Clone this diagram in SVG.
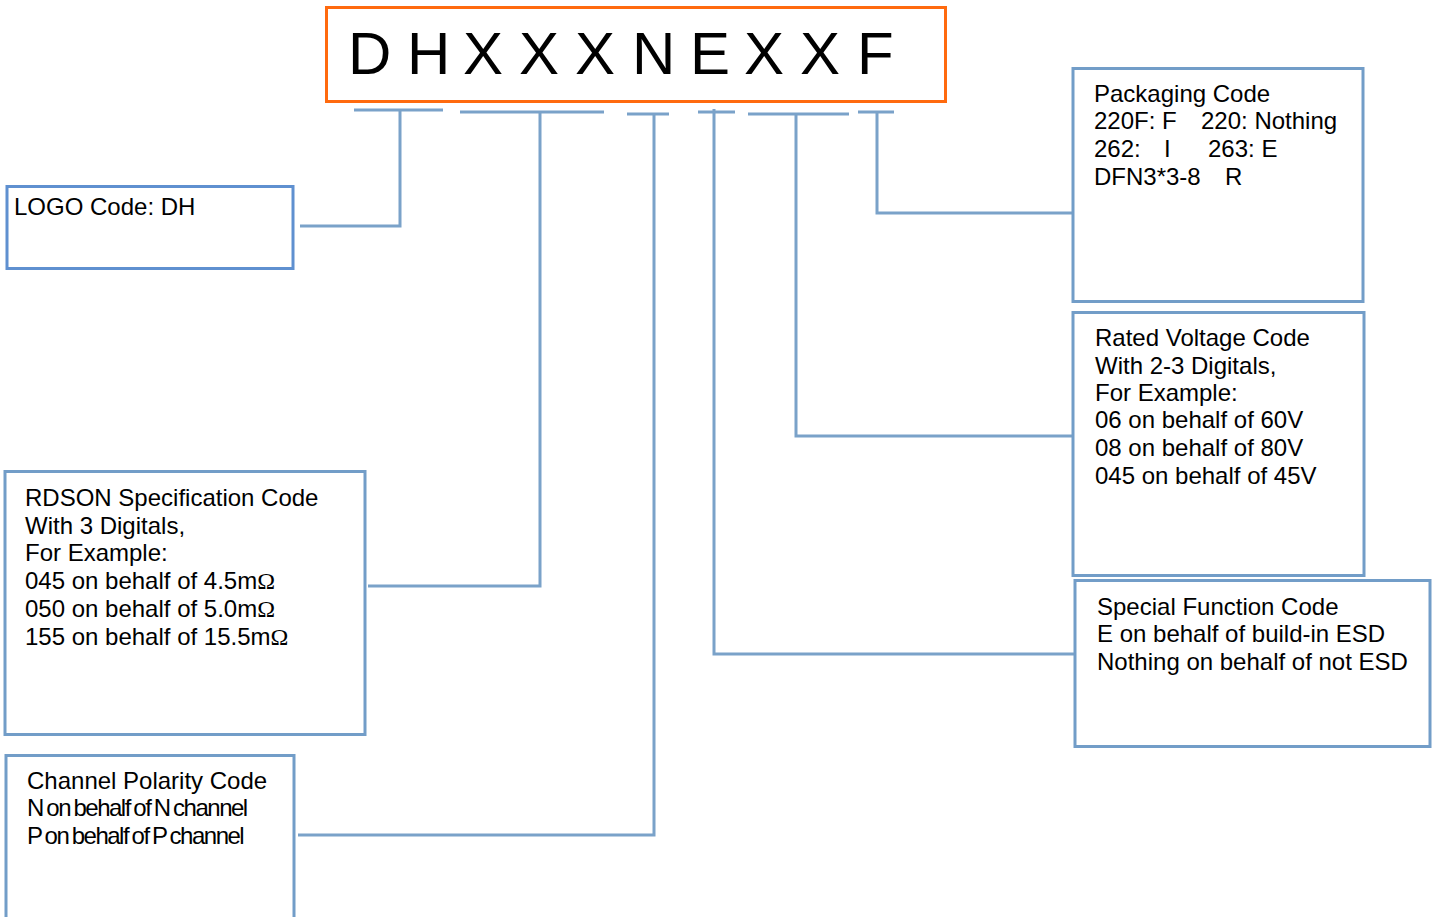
<svg xmlns="http://www.w3.org/2000/svg" width="1438" height="917" viewBox="0 0 1438 917">
<style>
.box{fill:#fff;stroke:#729dc8;stroke-width:3}
.ln{fill:none;stroke:#7aa2c9;stroke-width:3}
.t{font-family:"Liberation Sans",Arial,sans-serif;font-size:24px;fill:#000}
.title{font-family:"Liberation Sans",Arial,sans-serif;font-size:60px;fill:#000}
.cond{letter-spacing:-1.5px;word-spacing:-1.7px}
.om{font-family:"Liberation Serif","Times New Roman",serif}
</style>
<rect width="1438" height="917" fill="#fff"/>
<g id="part-number">
<rect x="326.5" y="7.5" width="619" height="94" fill="#fff" stroke="#ff6a0e" stroke-width="3"/>
<text class="title" y="74"><tspan x="348">D</tspan><tspan x="407">H</tspan><tspan x="463">X</tspan><tspan x="519">X</tspan><tspan x="575">X</tspan><tspan x="632">N</tspan><tspan x="690">E</tspan><tspan x="744">X</tspan><tspan x="800">X</tspan><tspan x="857">F</tspan></text>
</g>
<g id="connectors">
<path class="ln" d="M354 110H443M400 110V226H300"/>
<path class="ln" d="M460 112H604M540 112V586H368"/>
<path class="ln" d="M627 114H669M654 114V835H298"/>
<path class="ln" d="M698 112H735M714 109V654H1075"/>
<path class="ln" d="M748 114H849M796 114V436H1073"/>
<path class="ln" d="M858 112H894M877 112V213H1073"/>
</g>
<g id="logo">
<rect x="7" y="186.5" width="286" height="82" fill="#fff" stroke="#5f90d0" stroke-width="3"/>
<text class="t" x="14" y="215">LOGO Code: DH</text>
</g>
<g id="rdson">
<rect class="box" x="5" y="471.5" width="360" height="263"/>
<text class="t"><tspan x="25" y="506">RDSON Specification Code</tspan><tspan x="25" y="534">With 3 Digitals,</tspan><tspan x="25" y="561">For Example:</tspan><tspan x="25" y="589">045 on behalf of 4.5m<tspan class="om">Ω</tspan></tspan><tspan x="25" y="617">050 on behalf of 5.0m<tspan class="om">Ω</tspan></tspan><tspan x="25" y="645">155 on behalf of 15.5m<tspan class="om">Ω</tspan></tspan></text>
</g>
<g id="channel">
<rect class="box" x="6" y="755.5" width="288" height="175"/>
<text class="t"><tspan x="27" y="789">Channel Polarity Code</tspan><tspan class="cond" x="27" y="816">N on behalf of N channel</tspan><tspan class="cond" x="27" y="844">P on behalf of P channel</tspan></text>
</g>
<g id="packaging">
<rect class="box" x="1073" y="68.5" width="290" height="233"/>
<text class="t"><tspan x="1094" y="102">Packaging Code</tspan><tspan x="1094" y="129">220F: F</tspan><tspan x="1201" y="129">220: Nothing</tspan><tspan x="1094" y="157">262:</tspan><tspan x="1164" y="157">I</tspan><tspan x="1208" y="157">263: E</tspan><tspan x="1094" y="185">DFN3*3-8</tspan><tspan x="1225" y="185">R</tspan></text>
</g>
<g id="voltage">
<rect class="box" x="1073" y="312.5" width="291" height="263"/>
<text class="t"><tspan x="1095" y="346">Rated Voltage Code</tspan><tspan x="1095" y="374">With 2-3 Digitals,</tspan><tspan x="1095" y="401">For Example:</tspan><tspan x="1095" y="428">06 on behalf of 60V</tspan><tspan x="1095" y="456">08 on behalf of 80V</tspan><tspan x="1095" y="484">045 on behalf of 45V</tspan></text>
</g>
<g id="special">
<rect class="box" x="1075" y="580.5" width="355" height="166"/>
<text class="t"><tspan x="1097" y="615">Special Function Code</tspan><tspan x="1097" y="642">E on behalf of build-in ESD</tspan><tspan x="1097" y="670">Nothing on behalf of not ESD</tspan></text>
</g>
</svg>
